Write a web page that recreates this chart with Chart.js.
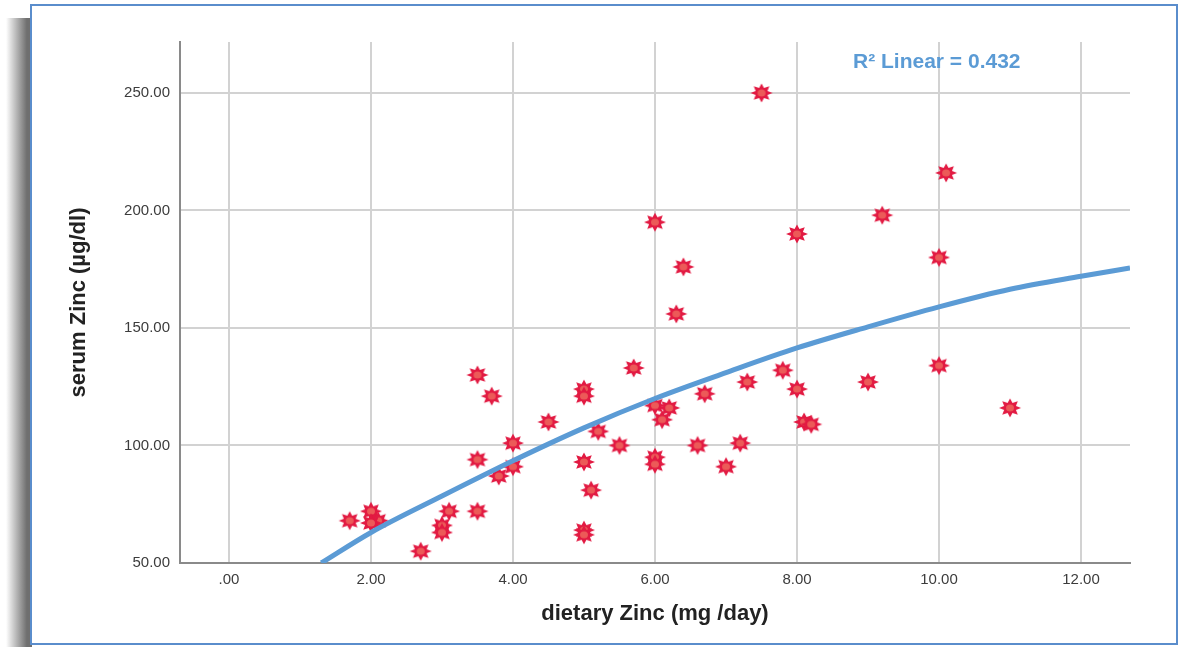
<!doctype html>
<html>
<head>
<meta charset="UTF-8">
<title>dietary Zinc vs serum Zinc</title>
<style>
body { margin:0; background:#fff; width:1189px; height:647px; overflow:hidden; position:relative; font-family:"Liberation Sans", Arial, sans-serif; }
#shadow { position:absolute; left:6px; top:18px; width:26px; height:629px; background:linear-gradient(to right, rgba(120,120,120,0), #6f6f6f 80%); }
#frame { position:absolute; left:30px; top:4px; width:1148px; height:641px; box-sizing:border-box; border:2px solid #5a8dcc; background:#fff; }
#chart { position:absolute; left:0; top:0; }
#r2 { position:absolute; left:853px; top:49px; color:#5b9bd5; font-weight:bold; font-size:21px; white-space:nowrap; }
</style>
</head>
<body>
<div id="shadow"></div>
<div id="frame"></div>
<canvas id="chart" width="1189" height="647"></canvas>
<div id="r2">R² Linear = 0.432</div>
<script src="https://cdn.jsdelivr.net/npm/chart.js@4.4.1/dist/chart.umd.min.js"></script>
<script>
// points
var dietaryZinc = [7.5, 10.1, 9.2, 6.0, 8.0, 10.0, 6.4, 6.3, 10.0, 3.5, 5.7, 7.8, 9.0, 7.3, 5.0, 5.0, 8.0, 6.7, 3.7, 11.0,
  6.0, 6.2, 6.1, 4.5, 8.1, 8.2, 5.2, 4.0, 5.5, 6.6, 7.2, 3.5, 6.0, 6.0, 5.0, 4.0, 3.8, 7.0, 5.1, 3.1,
  3.5, 2.0, 1.7, 2.1, 2.0, 3.0, 3.0, 5.0, 5.0, 2.7];
var serumZinc = [250, 216, 198, 195, 190, 180, 176, 156, 134, 130, 133, 132, 127, 127, 124, 121, 124, 122, 121, 116,
  117, 116, 111, 110, 110, 109, 106, 101, 100, 100, 101, 94, 95, 92, 93, 91, 87, 91, 81, 72,
  72, 72, 68, 68, 67, 66, 63, 64, 62, 55];
// fit line, read at a few x positions
var fitX = [1.3, 2, 3, 4, 5, 6, 7, 8, 9, 10, 11, 12, 12.69];
var fitY = [50, 63, 78.5, 93.5, 107.5, 120, 131, 141.5, 150.5, 159, 166.5, 172, 175.5];

var xTicks = [0, 2, 4, 6, 8, 10, 12];
var yTicks = [50, 100, 150, 200, 250];

var pts = [];
for (var i = 0; i < dietaryZinc.length; i++) pts.push({x: dietaryZinc[i], y: serumZinc[i]});
var fit = [];
for (var j = 0; j < fitX.length; j++) fit.push({x: fitX[j], y: fitY[j]});

// star marker
var star = document.createElement('canvas');
star.width = 24; star.height = 22;
var sc = star.getContext('2d');
sc.translate(12, 11);
sc.beginPath();
for (var k = 0; k < 16; k++) {
  var a = k * Math.PI / 8 - Math.PI / 2;
  var r = (k % 2 == 0) ? 1 : 0.58;
  var px = Math.cos(a) * r * 11, py = Math.sin(a) * r * 9.5;
  if (k == 0) sc.moveTo(px, py); else sc.lineTo(px, py);
}
sc.closePath();
sc.fillStyle = '#e21a42';
sc.fill();
sc.beginPath();
sc.ellipse(0, 0, 4, 3.5, 0, 0, Math.PI * 2);
sc.fillStyle = '#ec5a58';
sc.fill();

var tickFont = {family: '"Liberation Sans", Arial, sans-serif', size: 15};
var titleFont = {family: '"Liberation Sans", Arial, sans-serif', size: 22, weight: 'bold'};

new Chart(document.getElementById('chart'), {
  type: 'scatter',
  data: {
    datasets: [
      {
        data: fit,
        showLine: true,
        borderColor: '#5b9bd5',
        borderWidth: 5,
        pointRadius: 0,
        cubicInterpolationMode: 'monotone',
        fill: false
      },
      {
        data: pts,
        pointStyle: star,
        pointRadius: 11,
        showLine: false
      }
    ]
  },
  options: {
    responsive: false,
    animation: false,
    layout: { padding: {left: 62, top: 42, right: 59, bottom: 16} },
    plugins: { legend: {display: false}, tooltip: {enabled: false} },
    scales: {
      x: {
        type: 'linear',
        min: -0.69, max: 12.69,
        afterFit: function(s) { s.height = 68; },
        afterBuildTicks: function(s) { s.ticks = xTicks.map(function(v) { return {value: v}; }); },
        ticks: {
          includeBounds: false,
          padding: 8,
          color: '#3c3c3c',
          font: tickFont,
          callback: function(v) { return v == 0 ? '.00' : v.toFixed(2); }
        },
        grid: { color: '#d2d2d2', lineWidth: 2, drawTicks: false },
        border: { color: '#8a8a8a', width: 2 },
        title: { display: true, text: 'dietary Zinc (mg /day)', color: '#222', font: titleFont }
      },
      y: {
        min: 50, max: 271.7,
        afterFit: function(s) { s.width = 118; },
        afterBuildTicks: function(s) { s.ticks = yTicks.map(function(v) { return {value: v}; }); },
        ticks: {
          includeBounds: false,
          padding: 10,
          color: '#3c3c3c',
          font: tickFont,
          callback: function(v) { return v.toFixed(2); }
        },
        grid: { color: '#d2d2d2', lineWidth: 2, drawTicks: false },
        border: { color: '#8a8a8a', width: 2 },
        title: { display: true, text: 'serum Zinc (µg/dl)', color: '#222', font: titleFont }
      }
    }
  }
});
</script>
</body>
</html>
